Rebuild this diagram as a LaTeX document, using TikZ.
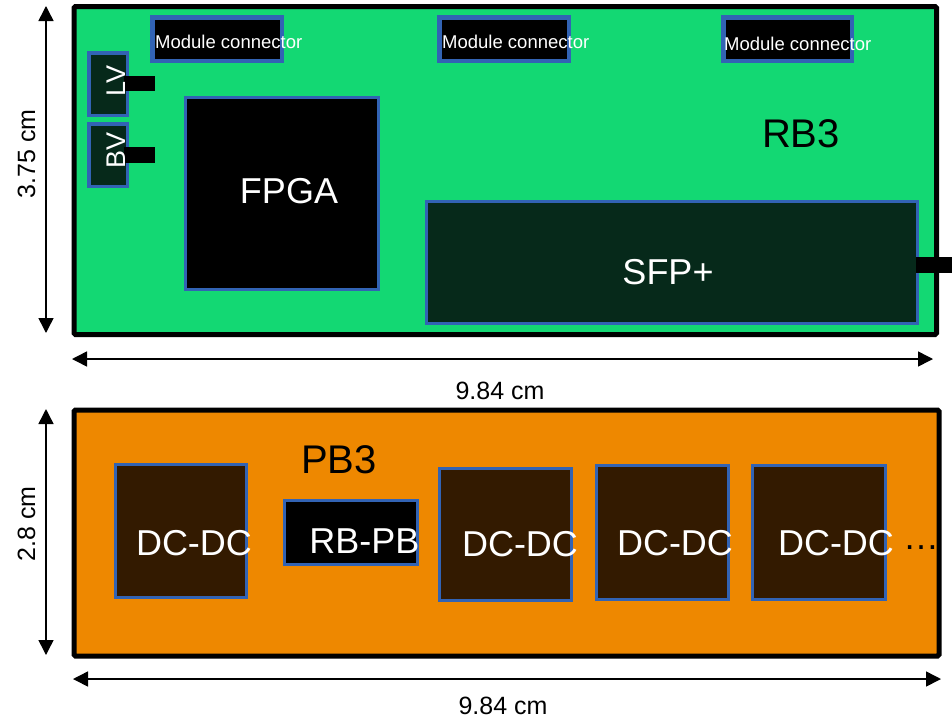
\documentclass[tikz,border=0pt]{standalone}
\usepackage{fontspec}
\setmainfont{Liberation Sans}
\usetikzlibrary{arrows.meta}
\definecolor{boardgreen}{HTML}{13D873}
\definecolor{boardorange}{HTML}{EE8800}
\definecolor{darkgreen}{HTML}{06291A}
\definecolor{darkbrown}{HTML}{331A00}
\definecolor{partblue}{HTML}{3263B4}
\tikzset{
  board/.style={draw=black,line width=5pt,rounded corners=1.5pt},
  part/.style={draw=partblue,line width=3pt,inner sep=0pt,outer sep=0pt},
  mcbox/.style={part,fill=black,line width=4.5pt,minimum width=129.5pt,minimum height=43.5pt},
  vbox/.style={part,fill=darkgreen,line width=3.5pt,minimum width=38.5pt,minimum height=62.5pt},
  tab/.style={fill=black,inner sep=0pt,outer sep=0pt,minimum width=31pt,minimum height=15pt},
  dcbox/.style={part,fill=darkbrown},
  wtxt/.style={text=white,inner sep=0pt,font=\fontsize{36}{40}\selectfont,anchor=base},
  btxt/.style={text=black,inner sep=0pt,font=\fontsize{40}{44}\selectfont,anchor=base},
  mctxt/.style={text=white,inner sep=0pt,font=\fontsize{18.5}{20}\selectfont,anchor=base west},
  dimtxt/.style={text=black,inner sep=0pt,font=\fontsize{25}{28}\selectfont,anchor=base},
  dim/.style={line width=1.5pt,{Triangle[width=15pt,length=15pt]}-{Triangle[width=15pt,length=15pt]}}
}
\begin{document}
\begin{tikzpicture}[x=1pt,y=-1pt]
\useasboundingbox (0,0) rectangle (952,718);
% ---------- RB3 ----------
\draw[board,fill=boardgreen] (74,6.5) rectangle (936.5,334.5);
\node[mcbox] (mc1) at (217,39) {};
\node[mcbox] (mc2) at (504,39) {};
\node[mcbox,minimum width=128.5pt] (mc3) at (787.5,39) {};
\node[mctxt] (mc1t) at (155,48) {Module connector};
\node[mctxt] (mc2t) at (442,48) {Module connector};
\node[mctxt] (mc3t) at (724,50) {Module connector};
\node[vbox] (lv) at (108,84) {};
\node[vbox] (bv) at (108,155) {};
\node[tab] (lvtab) at (139.5,83.5) {};
\node[tab,minimum height=16pt] (bvtab) at (139.5,155) {};
\node[text=white,inner sep=0pt,font=\fontsize{27}{30}\selectfont,rotate=90,anchor=base] (lvt) at (125,80.5) {LV};
\node[text=white,inner sep=0pt,font=\fontsize{27}{30}\selectfont,rotate=90,anchor=base] (bvt) at (125,150.5) {BV};
\node[part,fill=black,minimum width=193pt,minimum height=192pt] (fpga) at (282,193.5) {};
\node[wtxt] (fpgat) at (289,203) {FPGA};
\node[part,fill=darkgreen,minimum width=491pt,minimum height=122pt] (sfp) at (672,262.5) {};
\node[wtxt] (sfpt) at (668,284) {SFP+};
\node[tab,minimum width=36pt,minimum height=16pt] (sfptab) at (934,265) {};
\node[btxt] (rb3) at (801,147) {RB3};
% ---------- PB3 ----------
\draw[board,fill=boardorange] (74,410) rectangle (939,656);
\node[btxt] (pb3) at (339,473) {PB3};
\node[dcbox,minimum width=131pt,minimum height=133pt] (dc1) at (181,531) {};
\node[part,fill=black,minimum width=133pt,minimum height=64pt] (rbpb) at (351,532.5) {};
\node[dcbox,minimum width=132pt,minimum height=132pt] (dc2) at (505.5,534.5) {};
\node[dcbox,minimum width=132pt,minimum height=134pt] (dc3) at (662.5,532.5) {};
\node[dcbox,minimum width=133pt,minimum height=134pt] (dc4) at (819,532.5) {};
\node[wtxt] (dc1t) at (194,555) {DC-DC};
\node[wtxt] (rbpbt) at (364.5,553) {RB-PB};
\node[wtxt] (dc2t) at (520,556) {DC-DC};
\node[wtxt] (dc3t) at (675,555) {DC-DC};
\node[wtxt] (dc4t) at (836,555) {DC-DC};
\node[wtxt,text=black] (dots) at (921,549) {…};
% ---------- dimensions ----------
\coordinate (v1a) at (46,6);
\coordinate (v1b) at (46,333);
\coordinate (h1a) at (72,359);
\coordinate (h1b) at (933,359);
\coordinate (v2a) at (46,409);
\coordinate (v2b) at (46,655);
\coordinate (h2a) at (73,679);
\coordinate (h2b) at (941,679);
\draw[dim] (v1a) -- (v1b);
\draw[dim] (h1a) -- (h1b);
\draw[dim] (v2a) -- (v2b);
\draw[dim] (h2a) -- (h2b);
\node[dimtxt,rotate=90] (d1) at (35,154) {3.75 cm};
\node[dimtxt,rotate=90] (d2) at (35,524) {2.8 cm};
\node[dimtxt] (d3) at (500,399) {9.84 cm};
\node[dimtxt] (d4) at (503,714) {9.84 cm};
\end{tikzpicture}
\end{document}
